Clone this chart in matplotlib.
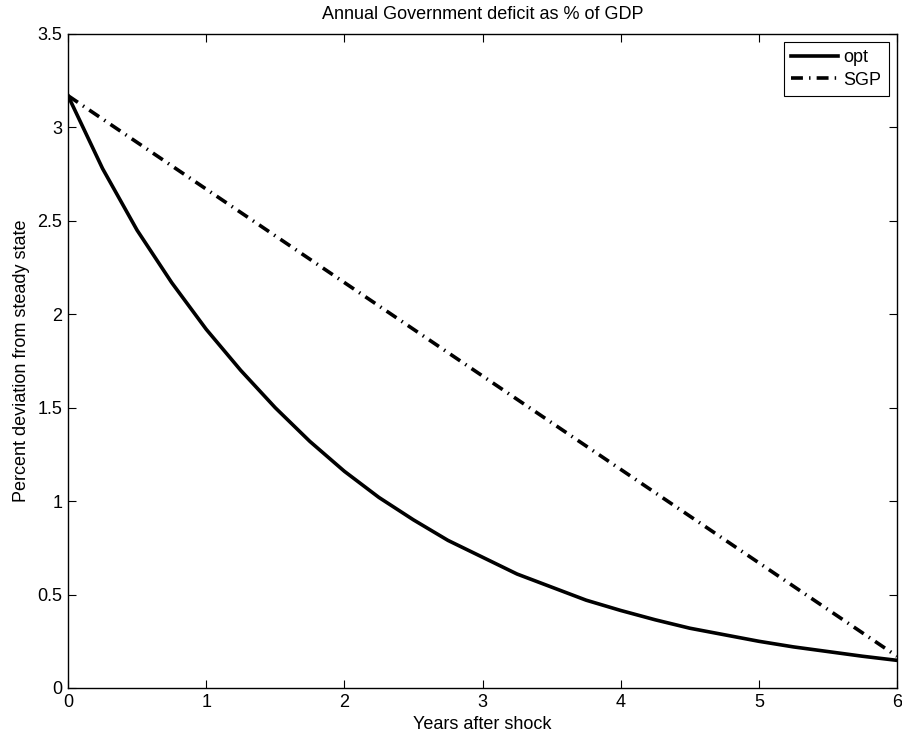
import numpy as np
import matplotlib
matplotlib.use('Agg')
from matplotlib import pyplot as plt

plt.rcParams['font.family'] = ['Liberation Sans', 'DejaVu Sans']

# quarterly horizon, years after shock
years = [0, 0.25, 0.5, 0.75, 1, 1.25, 1.5, 1.75, 2, 2.25, 2.5, 2.75, 3,
         3.25, 3.5, 3.75, 4, 4.25, 4.5, 4.75, 5, 5.25, 5.5, 5.75, 6]
opt = [3.17, 2.78, 2.45, 2.17, 1.92, 1.70, 1.50, 1.32, 1.16, 1.02, 0.90,
       0.79, 0.70, 0.61, 0.54, 0.47, 0.415, 0.365, 0.32, 0.285, 0.25,
       0.22, 0.195, 0.17, 0.148]
sgp_years = [0, 1, 2, 3, 4, 5, 6]
sgp = [3.17, 2.67, 2.17, 1.67, 1.17, 0.67, 0.17]

fig = plt.figure(figsize=(9.02, 7.38), dpi=100)
ax = fig.add_axes([68/902, 1 - 688/738, 829/902, 654/738])

ax.plot(years, opt, color='black', lw=2.6, label='opt')
ax.plot(sgp_years, sgp, color='black', lw=2.6,
        linestyle=(0, (3.3, 1.7, 0.4, 1.7)), label='SGP')

ax.set_xlim(0, 6)
ax.set_ylim(0, 3.5)
ax.set_xticks(np.arange(0, 7, 1))
ax.set_yticks(np.arange(0, 3.51, 0.5))
ax.set_yticklabels(['0', '0.5', '1', '1.5', '2', '2.5', '3', '3.5'])
ax.tick_params(direction='in', length=5.5, width=0.8, top=True, right=True,
               labelsize=13, pad=4)
for s in ax.spines.values():
    s.set_linewidth(1.0)

ax.set_title('Annual Government deficit as % of GDP', fontsize=13, pad=11)
ax.set_xlabel('Years after shock', fontsize=13, labelpad=4)
ax.set_ylabel('Percent deviation from steady state', fontsize=13, labelpad=5)

leg = ax.legend(loc='upper right', fontsize=13, fancybox=False,
                framealpha=1, edgecolor='black', handlelength=2.6,
                borderaxespad=0.45, borderpad=0.4, labelspacing=0.3,
                handletextpad=0.3)
leg.get_frame().set_linewidth(0.8)

fig.savefig('out.png', dpi=100)
